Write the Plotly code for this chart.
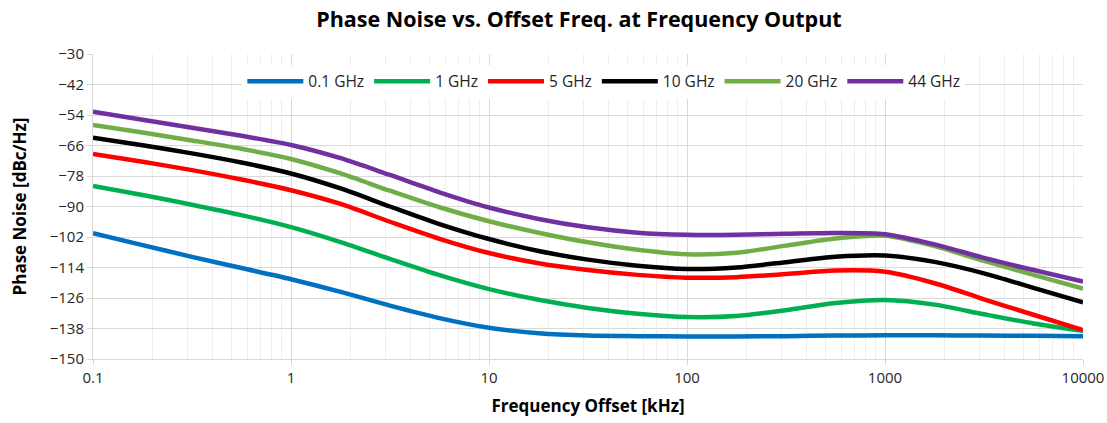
import plotly.graph_objects as go

# Offset frequencies in kHz (quarter-decade steps)
offset_khz = [0.1, 0.178, 0.316, 0.562, 1, 1.78, 3.16, 5.62, 10, 17.8, 31.6, 56.2,
              100, 178, 316, 562, 1000, 1780, 3160, 5620, 10000]

# Phase noise in dBc/Hz for each output frequency
pn_0p1ghz = [-100.5, -105.2, -109.8, -114.2, -118.6, -123.6, -129.0, -133.9, -137.7, -139.9,
             -140.8, -141.0, -141.1, -141.1, -141.0, -140.8, -140.7, -140.7, -140.8, -140.9, -141.0]
pn_1ghz = [-81.9, -85.5, -89.3, -93.4, -98.1, -104.0, -110.6, -117.0, -122.5, -126.7,
           -129.9, -132.2, -133.5, -133.1, -130.8, -128.0, -126.8, -128.6, -132.4, -136.0, -138.9]
pn_5ghz = [-69.3, -72.4, -75.7, -79.4, -83.6, -89.0, -96.0, -102.7, -108.3, -112.3,
           -115.0, -116.9, -118.0, -117.8, -116.6, -115.2, -115.7, -120.2, -126.5, -132.6, -138.6]
pn_10ghz = [-62.9, -65.9, -69.1, -72.7, -77.0, -82.9, -90.0, -96.9, -102.8, -107.5,
            -110.9, -113.3, -114.6, -114.0, -111.9, -109.8, -109.3, -111.8, -116.3, -122.0, -127.7]
pn_20ghz = [-57.9, -60.9, -64.0, -67.3, -71.3, -77.0, -83.8, -90.3, -95.8, -100.3,
            -104.1, -107.0, -108.8, -108.2, -105.4, -102.6, -101.5, -105.6, -111.4, -116.9, -122.3]
pn_44ghz = [-52.7, -55.9, -59.0, -62.2, -65.8, -71.0, -77.6, -84.4, -90.4, -94.9,
            -98.2, -100.3, -101.1, -101.1, -100.7, -100.4, -100.9, -104.9, -110.2, -115.0, -119.5]

series_names = ["0.1 GHz", "1 GHz", "5 GHz", "10 GHz", "20 GHz", "44 GHz"]
series_values = [pn_0p1ghz, pn_1ghz, pn_5ghz, pn_10ghz, pn_20ghz, pn_44ghz]
series_colors = ["#0070C0", "#00B050", "#FF0000", "#000000", "#70AD47", "#7030A0"]

x_tick_vals = [0.1, 1, 10, 100, 1000, 10000]
x_tick_text = ["0.1", "1", "10", "100", "1000", "10000"]
y_tick_vals = [-30, -42, -54, -66, -78, -90, -102, -114, -126, -138, -150]

FONT = "'Open Sans', sans-serif"
GRID = "#d9d9d9"
TEXT = "#262626"

fig = go.Figure()
for name, vals, color in zip(series_names, series_values, series_colors):
    fig.add_trace(go.Scatter(
        x=offset_khz, y=vals, name=name, mode="lines",
        line=dict(color=color, width=4.5, shape="spline", smoothing=0.8),
    ))

fig.update_layout(
    width=1107, height=423,
    margin=dict(l=93, r=24, t=54, b=64),
    paper_bgcolor="white", plot_bgcolor="white",
    font=dict(family=FONT, size=15, color=TEXT),
    title=dict(
        text="<b>Phase Noise vs. Offset Freq. at Frequency Output</b>",
        x=0.523, xanchor="center", y=0.955, yanchor="middle",
        font=dict(family=FONT, size=21.5, color="black"),
    ),
    legend=dict(
        orientation="h", x=0.516, xanchor="center", y=0.965, yanchor="top",
        bgcolor="white", font=dict(family=FONT, size=15.5, color=TEXT),
        itemwidth=56, traceorder="normal",
    ),
    xaxis=dict(
        type="log", range=[-1, 4], automargin=False,
        tickvals=x_tick_vals, ticktext=x_tick_text,
        showgrid=True, gridcolor=GRID, gridwidth=1,
        showline=True, linecolor=GRID, linewidth=1,
        ticks="outside", ticklen=5, tickcolor=GRID,
        minor=dict(dtick="D1", showgrid=True, gridcolor="#eeeeee", gridwidth=1),
        tickfont=dict(family=FONT, size=15, color=TEXT),
        title=dict(text="<b>Frequency Offset [kHz]</b>", standoff=14,
                   font=dict(family=FONT, size=17, color="black")),
        zeroline=False,
    ),
    yaxis=dict(
        range=[-150, -30], tickvals=y_tick_vals, automargin=False,
        showgrid=True, gridcolor=GRID, gridwidth=1,
        showline=True, linecolor=GRID, linewidth=1,
        ticks="outside", ticklen=5, tickcolor=GRID,
        tickfont=dict(family=FONT, size=15, color=TEXT),
        title=dict(text="<b>Phase Noise [dBc/Hz]</b>", standoff=18,
                   font=dict(family=FONT, size=17, color="black")),
        zeroline=False,
    ),
)

fig.write_html("out.html")
